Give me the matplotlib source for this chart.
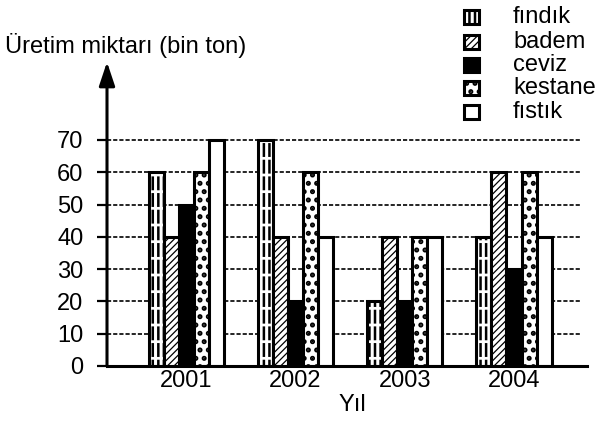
import matplotlib
matplotlib.use("Agg")
import matplotlib.pyplot as plt
from matplotlib.patches import Rectangle
import numpy as np

plt.rcParams['font.family'] = ['Liberation Sans', 'DejaVu Sans']

# data
years = ['2001', '2002', '2003', '2004']
products = ['fındık', 'badem', 'ceviz', 'kestane', 'fıstık']
findik = [60, 70, 20, 40]
badem = [40, 40, 40, 60]
ceviz = [50, 20, 20, 30]
kestane = [60, 60, 40, 60]
fistik = [70, 40, 40, 40]
series = [findik, badem, ceviz, kestane, fistik]
yticks = [0, 10, 20, 30, 40, 50, 60, 70]

# look of each series: (facecolor, hatch, hatch linewidth)
styles = [('white', '|||', 1.8), ('white', '/////', 0.9), ('black', None, 1.0),
          ('white', '..', 2.4), ('white', None, 1.0)]

fig = plt.figure(figsize=(6.03, 4.29), dpi=100)
W, H = 603, 429
left, right, bottom, top = 107, 587, 366, 62
ax = fig.add_axes([left / W, (H - bottom) / H, (right - left) / W, (bottom - top) / H])

px_per_unit = 32.3 / 10
ytop = (bottom - top) / px_per_unit
xmin, xmax = -0.725, 3.668
ax.set_xlim(xmin, xmax)
ax.set_ylim(0, ytop)


def patterned(draw, fc, hatch, hlw):
    """draw one series (bars or legend box) with its fill pattern"""
    with plt.rc_context({'hatch.linewidth': hlw}):
        draw(facecolor=fc, edgecolor='black', linewidth=0, hatch=hatch)
    if hatch == '|||':
        # break the vertical lines into dashes
        with plt.rc_context({'hatch.linewidth': 2.0}):
            draw(facecolor='none', edgecolor='white', linewidth=0, hatch='-')
    draw(facecolor='none', edgecolor='black', linewidth=2.2, hatch=None)


x = np.arange(len(years))
w = 0.1376
for i, (vals, (fc, hatch, hlw)) in enumerate(zip(series, styles)):
    def draw_bars(**kw):
        ax.bar(x + (i - 2) * w, vals, w, zorder=3, **kw)
    patterned(draw_bars, fc, hatch, hlw)

# dotted grid
ax.hlines(yticks[1:], xmin, 3.604, colors='black', linewidth=1.2,
          linestyles=(0, (2.5, 1.2)), zorder=1)

for s in ['top', 'right', 'left']:
    ax.spines[s].set_visible(False)
ax.spines['bottom'].set_linewidth(2.2)
ax.spines['bottom'].set_zorder(5)

# y axis with arrow
ax.annotate('', xy=(xmin, ytop), xytext=(xmin, 0), xycoords='data',
            arrowprops=dict(arrowstyle='-|>,head_length=0.9,head_width=0.3',
                            lw=2.2, color='black', shrinkA=0, shrinkB=0,
                            mutation_scale=16),
            annotation_clip=False)

ax.set_yticks(yticks)
ax.set_yticklabels([str(v) for v in yticks], fontsize=17)
ax.tick_params(axis='y', length=7, width=1.6, pad=10)
ax.set_xticks(x)
ax.set_xticklabels(years, fontsize=17)
ax.tick_params(axis='x', length=0, pad=3)

fig.text(5 / W, 1 - 45 / H, 'Üretim miktarı (bin ton)', fontsize=17, va='center', ha='left')
fig.text(352 / W, 1 - 405 / H, 'Yıl', fontsize=17, va='center', ha='center')

# legend drawn by hand
row_y = [17, 42, 65, 88, 112]
for (fc, hatch, hlw), name, ry in zip(styles, products, row_y):
    def draw_box(**kw):
        fig.patches.append(Rectangle((464 / W, 1 - (ry + 7) / H), 15 / W, 14 / H,
                                     transform=fig.transFigure, **kw))
    patterned(draw_box, fc, hatch, hlw)
    fig.text(513 / W, 1 - ry / H, name, fontsize=17, va='center', ha='left')

fig.savefig('out.png', dpi=100)
